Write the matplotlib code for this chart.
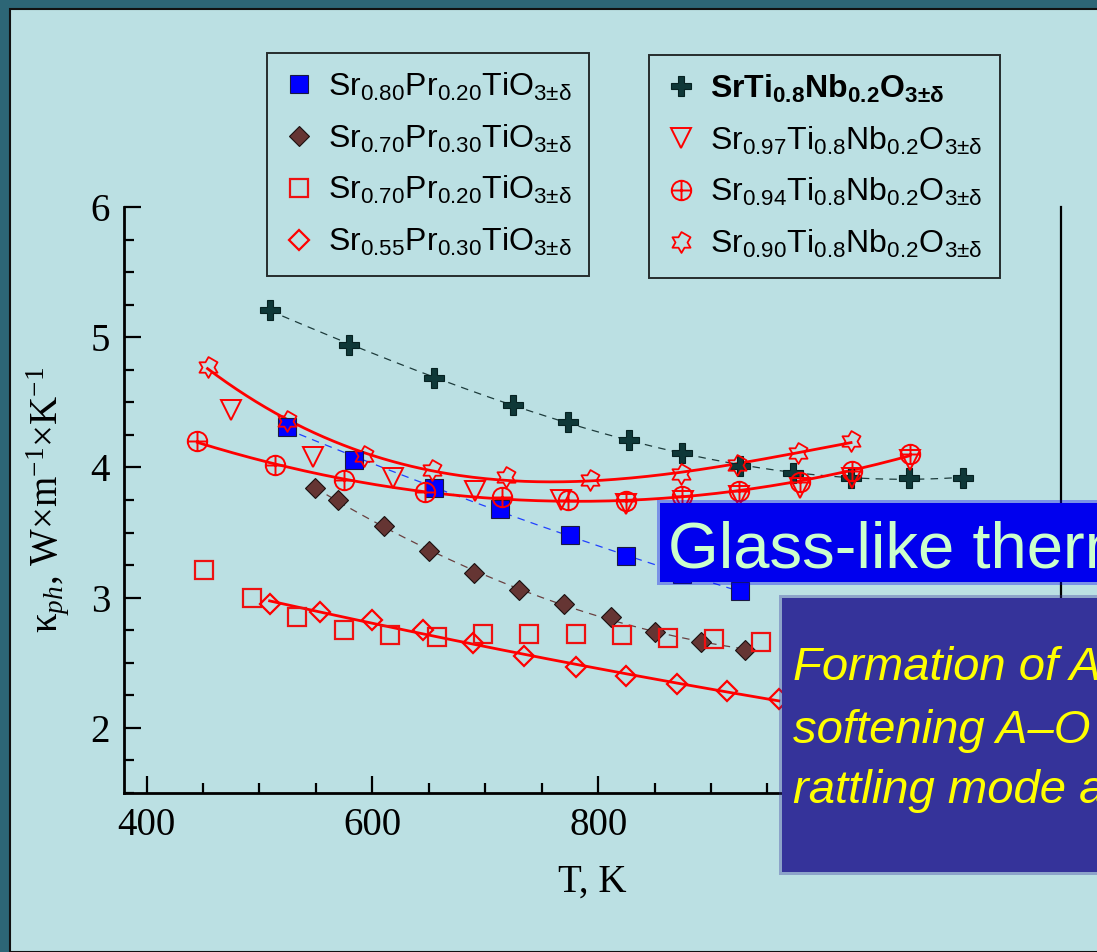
import numpy as np
import matplotlib
matplotlib.use("Agg")
import matplotlib.pyplot as plt
from matplotlib.path import Path
from matplotlib.patches import Rectangle
from matplotlib.ticker import MultipleLocator

plt.rcParams['mathtext.fontset'] = 'custom'
plt.rcParams['mathtext.default'] = 'regular'
plt.rcParams['mathtext.it'] = 'Liberation Serif:italic'
plt.rcParams['mathtext.rm'] = 'Liberation Serif'

# data (T in K, kappa_ph in W/m/K)
cross_T = [509, 579, 655, 725, 773, 827, 874, 926, 973, 1024, 1075, 1123]
cross_k = [5.21, 4.94, 4.69, 4.48, 4.35, 4.21, 4.11, 4.01, 3.96, 3.92, 3.92, 3.92]

blue_T = [524, 584, 655, 713, 775, 825, 874, 926]
blue_k = [4.31, 4.06, 3.84, 3.68, 3.48, 3.32, 3.18, 3.05]

brown_T = [549, 570, 610, 650, 690, 730, 770, 811, 850, 891, 930]
brown_k = [3.84, 3.75, 3.55, 3.36, 3.19, 3.06, 2.95, 2.85, 2.74, 2.66, 2.60]

rsq_T = [451, 493, 533, 575, 616, 657, 698, 739, 780, 821, 862, 903, 944]
rsq_k = [3.21, 3.00, 2.85, 2.75, 2.71, 2.70, 2.72, 2.72, 2.72, 2.71, 2.69, 2.68, 2.66]

rdia_T = [509, 554, 600, 645, 689, 734, 780, 825, 870, 914, 960]
rdia_k = [2.95, 2.89, 2.83, 2.75, 2.65, 2.55, 2.47, 2.40, 2.34, 2.28, 2.22]

tri_T = [475, 547, 618, 691, 767, 825, 875, 925, 979, 1025, 1076]
tri_k = [4.44, 4.08, 3.92, 3.82, 3.75, 3.72, 3.74, 3.78, 3.84, 3.92, 4.06]

oplus_T = [445, 514, 575, 647, 715, 773, 825, 874, 925, 979, 1025, 1076]
oplus_k = [4.20, 4.02, 3.90, 3.81, 3.77, 3.75, 3.74, 3.78, 3.82, 3.89, 3.97, 4.10]

star_T = [454, 524, 593, 653, 718, 793, 873, 923, 977, 1024]
star_k = [4.77, 4.36, 4.09, 3.98, 3.93, 3.90, 3.95, 4.02, 4.11, 4.20]

labels_left = [r'Sr$_{0.80}$Pr$_{0.20}$TiO$_{3±δ}$',
               r'Sr$_{0.70}$Pr$_{0.30}$TiO$_{3±δ}$',
               r'Sr$_{0.70}$Pr$_{0.20}$TiO$_{3±δ}$',
               r'Sr$_{0.55}$Pr$_{0.30}$TiO$_{3±δ}$']
labels_right = [r'SrTi$_{0.8}$Nb$_{0.2}$O$_{3±δ}$',
                r'Sr$_{0.97}$Ti$_{0.8}$Nb$_{0.2}$O$_{3±δ}$',
                r'Sr$_{0.94}$Ti$_{0.8}$Nb$_{0.2}$O$_{3±δ}$',
                r'Sr$_{0.90}$Ti$_{0.8}$Nb$_{0.2}$O$_{3±δ}$']

title_txt = 'Glass-like thermal conductivity'
note_lines = ['Formation of A-site vacancies,',
              'softening A\u2013O bonds and',
              'rattling mode appearance']

# custom markers
circ = Path.unit_circle()
oplus = Path.make_compound_path(circ,
                                Path([[-1, 0], [1, 0]], [Path.MOVETO, Path.LINETO]),
                                Path([[0, -1], [0, 1]], [Path.MOVETO, Path.LINETO]))
ang = np.pi / 2 + np.arange(12) * np.pi / 6
rad = np.where(np.arange(12) % 2 == 0, 1.0, 1 / np.sqrt(3))
hexa = Path(np.column_stack([rad * np.cos(ang), rad * np.sin(ang)]), closed=True)


def fit(T, k, deg):
    c = np.polyfit(T, k, deg)
    t = np.linspace(min(T), max(T), 200)
    return t, np.polyval(c, t)


fig = plt.figure(figsize=(10.97, 9.52), dpi=100, facecolor='#2d6676')
fig.add_artist(Rectangle((10 / 1097, 0), 1, 1 - 9 / 952, transform=fig.transFigure,
                         facecolor='#bbe0e3', edgecolor='#111111', lw=1.5, zorder=0))

ax = fig.add_axes([124 / 1097, 1 - 793 / 952, (1061 - 124) / 1097, (793 - 207) / 952])
ax.set_facecolor('none')

# fit lines
t, y = fit(cross_T, cross_k, 3)
ax.plot(t, y, ls=(0, (6, 5)), color='#1d3b3b', lw=0.9)
t, y = fit(blue_T, blue_k, 2)
ax.plot(t, y, ls=(0, (6, 5)), color='#2040ff', lw=0.9)
t, y = fit(brown_T, brown_k, 2)
ax.plot(t, y, ls=(0, (6, 5)), color='#6a4040', lw=0.9)
t, y = fit(rdia_T, rdia_k, 2)
ax.plot(t, y, color='red', lw=2)
t, y = fit(oplus_T, oplus_k, 3)
ax.plot(t, y, color='red', lw=2)
t, y = fit(star_T, star_k, 3)
ax.plot(t, y, color='red', lw=2)

# markers
h_blue, = ax.plot(blue_T, blue_k, 's', ms=13, mfc='#0000ff', mec='#1a1a40', mew=0.8)
h_brown, = ax.plot(brown_T, brown_k, 'D', ms=10, mfc='#653533', mec='#1a1010', mew=0.8)
h_rsq, = ax.plot(rsq_T, rsq_k, 's', ms=13, mfc='none', mec='#ee1111', mew=1.6)
h_rdia, = ax.plot(rdia_T, rdia_k, 'D', ms=10, mfc='none', mec='red', mew=1.6)
h_cross, = ax.plot(cross_T, cross_k, 'P', ms=15, mfc='#0f3838', mec='#062222', mew=0.8)
h_tri, = ax.plot(tri_T, tri_k, 'v', ms=14, mfc='none', mec='red', mew=1.4)
h_oplus, = ax.plot(oplus_T, oplus_k, marker=oplus, ls='none', ms=14, mfc='none', mec='red', mew=1.4)
h_star, = ax.plot(star_T, star_k, marker=hexa, ls='none', ms=15, mfc='none', mec='red', mew=1.3)

ax.set_xlim(380, 1210)
ax.set_ylim(1.5, 6)
ax.xaxis.set_major_locator(MultipleLocator(200))
ax.xaxis.set_minor_locator(MultipleLocator(50))
ax.yaxis.set_major_locator(MultipleLocator(1))
ax.yaxis.set_minor_locator(MultipleLocator(0.25))
ax.tick_params(which='both', direction='in', width=1.6, labelsize=28, pad=10,
               labelfontfamily='Liberation Serif', right=False, top=False)
ax.tick_params(which='major', length=12)
ax.tick_params(which='minor', length=7)
ax.spines['top'].set_visible(False)
for s in ['left', 'bottom']:
    ax.spines[s].set_linewidth(2)
ax.spines['right'].set_linewidth(1.6)

ax.set_xlabel('T, K', fontsize=28, family='Liberation Serif', labelpad=14)
ax.set_ylabel(r'$\kappa_{\mathit{ph}}$, W×m$^{-1}$×K$^{-1}$', fontsize=28,
              family='Liberation Serif', labelpad=14)

leg_kw = dict(loc='upper left', frameon=True, fancybox=False, edgecolor='black',
              facecolor='none', framealpha=None, borderpad=0.55, labelspacing=0.62,
              handlelength=0.9, handletextpad=0.45, borderaxespad=0,
              prop={'family': 'Liberation Sans', 'size': 23})
leg1 = fig.legend([h_blue, h_brown, h_rsq, h_rdia], labels_left,
                  bbox_to_anchor=(267 / 1097, 1 - 53 / 952), **leg_kw)
leg2 = fig.legend([h_cross, h_tri, h_oplus, h_star], labels_right,
                  bbox_to_anchor=(649 / 1097, 1 - 55 / 952), **leg_kw)
for lg in (leg1, leg2):
    lg.get_frame().set_linewidth(1.4)
leg2.get_texts()[0].set_fontweight('bold')

# overlay boxes with soft edges
for i, a in enumerate([0.35, 1.0]):
    d = (1 - i) * 3
    fig.add_artist(Rectangle(((660 - d) / 1097, 1 - (582 + d) / 952), 1, (79 + 2 * d) / 952,
                             transform=fig.transFigure, facecolor='#0000ee', alpha=a,
                             lw=0, zorder=10))
    fig.add_artist(Rectangle(((782 - d) / 1097, 1 - (872 + d) / 952), 1, (274 + 2 * d) / 952,
                             transform=fig.transFigure, facecolor='#35339a', alpha=a,
                             lw=0, zorder=10))
fig.text(668 / 1097, 1 - 568 / 952, title_txt, color='#ccffcc', fontsize=47,
         family='Liberation Sans', va='baseline', zorder=11)
for txt, yb in zip(note_lines, [680, 743, 803]):
    fig.text(793 / 1097, 1 - yb / 952, txt, color='#ffff00', fontsize=34,
             family='Liberation Sans', style='italic', va='baseline', zorder=11)

fig.savefig('out.png', dpi=100, facecolor=fig.get_facecolor())
